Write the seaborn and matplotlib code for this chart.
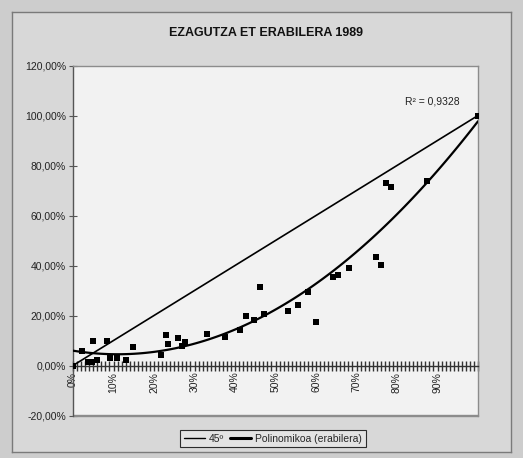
import numpy as np
import pandas as pd
import matplotlib
matplotlib.use("Agg")
import matplotlib.pyplot as plt
from matplotlib.lines import Line2D
import seaborn as sns
from matplotlib.patches import Rectangle

# ---- data (percent) ----
ezagutza = [0, 2.3, 3.8, 4.6, 5.0, 5.9, 8.3, 9.2, 10.8, 13.0, 14.7, 21.8, 23.0, 23.4,
            26.0, 26.9, 27.7, 33.0, 37.6, 41.2, 42.6, 44.6, 46.1, 47.1, 53.0, 55.5,
            58.0, 60.0, 64.2, 65.5, 68.1, 74.7, 76.1, 77.2, 78.6, 87.4, 100]
erabilera = [0, 5.7, 1.3, 1.3, 9.7, 2.3, 10.0, 3.1, 3.1, 2.3, 7.6, 4.4, 12.4, 8.7,
             11.0, 8.0, 9.3, 12.7, 11.3, 14.3, 19.7, 18.4, 31.3, 20.7, 21.7, 24.4,
             29.3, 17.6, 35.3, 36.3, 39.0, 43.3, 40.3, 72.9, 71.3, 73.7, 100]
diag_x = [0, 100]
diag_y = [0, 100]
x_ticks = [0, 10, 20, 30, 40, 50, 60, 70, 80, 90]
x_labels = ["0%", "10%", "20%", "30%", "40%", "50%", "60%", "70%", "80%", "90%"]
y_ticks = [-20, 0, 20, 40, 60, 80, 100, 120]
title = "EZAGUTZA ET ERABILERA 1989"
r2_text = "R² = 0,9328"
legend_labels = ["45º", "Polinomikoa (erabilera)"]

df = pd.DataFrame({"ezagutza": ezagutza, "erabilera": erabilera})

sns.set_style("white")
plt.rcParams["font.family"] = ["Liberation Sans", "DejaVu Sans"]

fig = plt.figure(figsize=(5.23, 4.58), dpi=100)
fig.patch.set_facecolor("#cdcdcd")

W, H = 523, 458
# chart area as a background axes
bg = fig.add_axes([12 / W, 1 - 452 / H, (511 - 12) / W, (452 - 12) / H], zorder=-5)
bg.set_facecolor("#d8d8d8")
bg.set_xticks([])
bg.set_yticks([])
for s in bg.spines.values():
    s.set_color("#7a7a7a")
    s.set_linewidth(1.0)

ax = fig.add_axes([73 / W, 1 - 415.5 / H, (478 - 73) / W, (415.5 - 65.5) / H], zorder=1)
ax.set_facecolor("#f2f2f2")

# 45 degree line
sns.lineplot(x=diag_x, y=diag_y, ax=ax, color="black", linewidth=1.2, zorder=3)
# polynomial trendline (order 2)
sns.regplot(data=df, x="ezagutza", y="erabilera", order=2, ci=None, scatter=False,
            ax=ax, color="black", line_kws={"linewidth": 1.6, "zorder": 3})
# points
sns.scatterplot(data=df, x="ezagutza", y="erabilera", ax=ax, marker="s", s=16,
                color="black", edgecolor="black", linewidth=0, zorder=4)

ax.set_xlim(0, 100)
ax.set_ylim(-20, 120)
ax.set_xlabel("")
ax.set_ylabel("")

for s in ["top", "right"]:
    ax.spines[s].set_color("#8c8c8c")
    ax.spines[s].set_linewidth(1.0)
ax.spines["left"].set_color("#555555")
ax.spines["left"].set_linewidth(1.0)
ax.spines["bottom"].set_position(("data", 0))
ax.spines["bottom"].set_color("#333333")
ax.spines["bottom"].set_linewidth(1.0)
ax.add_patch(Rectangle((0, 0), 1, 0.001, transform=ax.transAxes, facecolor="none",
                       edgecolor="#8c8c8c", linewidth=1.0, clip_on=False))

ax.set_yticks(y_ticks)
ax.set_yticklabels([f"{v:.2f}".replace(".", ",") + "%" for v in y_ticks], fontsize=7.5,
                   color="#222222")
ax.set_xticks(x_ticks)
ax.set_xticklabels(x_labels, rotation=90, fontsize=7.5, color="#222222")
ax.set_xticks(np.arange(0, 101, 1), minor=True)
ax.tick_params(axis="x", which="both", direction="inout", length=7, width=1.0,
               color="#333333", pad=1, bottom=True)
ax.tick_params(axis="y", which="major", direction="inout", length=6, width=0.8,
               color="#555555", pad=2, left=True)

ax.text(88.6, 105.6, r2_text, fontsize=7.5, ha="center", va="center", color="#222222")

fig.text(0.508, 1 - 33 / H, title, fontsize=9, fontweight="bold", ha="center",
         va="center", color="#111111")

handles = [Line2D([], [], color="black", linewidth=1.0),
           Line2D([], [], color="black", linewidth=2.2)]
leg = fig.legend(handles, legend_labels, loc="center", bbox_to_anchor=(273 / W, 1 - 438.5 / H),
                 ncol=2, fontsize=7.5, frameon=True, fancybox=False, handlelength=2.0,
                 handletextpad=0.4, columnspacing=0.6, borderpad=0.35)
leg.get_frame().set_edgecolor("black")
leg.get_frame().set_linewidth(0.8)
leg.get_frame().set_facecolor("#e6e6e6")
leg.set_zorder(10)

fig.savefig("out.png", dpi=100, facecolor=fig.get_facecolor())
